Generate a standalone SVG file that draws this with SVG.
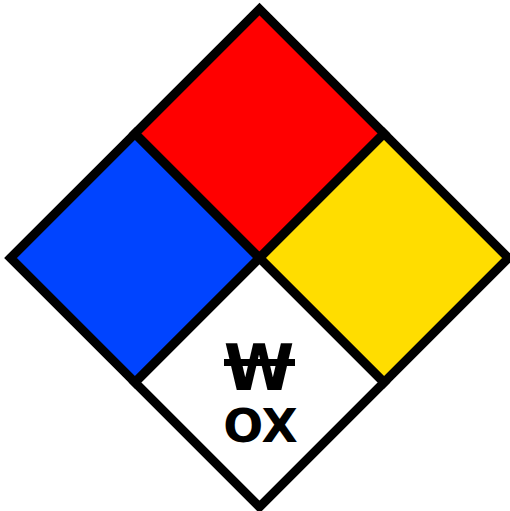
<svg xmlns="http://www.w3.org/2000/svg" width="510" height="511" viewBox="0 0 510 511">
<style>
.q{stroke:#000;stroke-width:9;stroke-linejoin:miter}
.t{font-family:"DejaVu Sans",sans-serif;font-weight:bold;fill:#000;text-anchor:middle}
</style>
<rect width="510" height="511" fill="#fff"/>
<g id="health"><polygon class="q" points="10.5,258 135,133.5 259.5,258 135,382.5" fill="#0044FF"/></g>
<g id="flammability"><polygon class="q" points="135,133.5 259.5,9 384,133.5 259.5,258" fill="#FF0000"/></g>
<g id="instability"><polygon class="q" points="259.5,258 384,133.5 508.5,258 384,382.5" fill="#FFDD00"/></g>
<g id="special"><polygon class="q" points="135,382.5 259.5,258 384,382.5 259.5,507" fill="#FFFFFF"/>
<text class="t" x="259" y="390" font-size="64">W</text>
<line x1="224" y1="362.5" x2="295" y2="362.5" stroke="#000" stroke-width="7"/>
<text class="t" x="260.5" y="442" font-size="47">OX</text>
</g>
</svg>
